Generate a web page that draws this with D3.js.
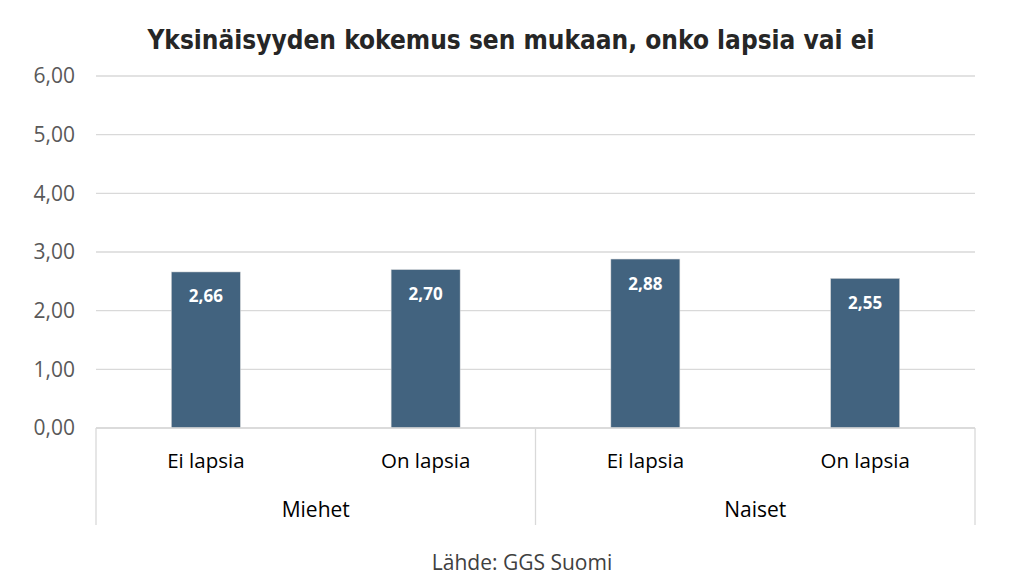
<!DOCTYPE html>
<html><head><meta charset="utf-8">
<script src="https://cdn.jsdelivr.net/npm/d3@7"></script>
<style>body{margin:0;background:#fff}</style>
</head><body>
<svg id="c" width="1024" height="586"></svg>
<script>
const title = "Yksinäisyyden kokemus sen mukaan, onko lapsia vai ei";
const source = "Lähde: GGS Suomi";
const groups = ["Miehet", "Naiset"];
const categories = ["Ei lapsia", "On lapsia", "Ei lapsia", "On lapsia"];
const categoryGroup = ["Miehet", "Miehet", "Naiset", "Naiset"];
const values = [2.66, 2.70, 2.88, 2.55];
const yTicks = [0, 1, 2, 3, 4, 5, 6];

const svg = d3.select("#c");
const W = 1024, H = 586;
const m = {l: 96, r: 975, t: 76, b: 428};
const fmt = v => d3.format(".2f")(v).replace(".", ",");
const font = "'Open Sans', 'Noto Sans', sans-serif";

svg.append("rect").attr("width", W).attr("height", H).attr("fill", "#fff");

const x = d3.scaleBand().domain(d3.range(categories.length)).range([m.l, m.r]).paddingInner(0.686).paddingOuter(0.343);
const y = d3.scaleLinear().domain([0, 6]).range([m.b, m.t]);

// gridlines
svg.append("g").selectAll("line").data(yTicks).join("line")
  .attr("x1", m.l).attr("x2", m.r)
  .attr("y1", d => y(d)).attr("y2", d => y(d))
  .attr("stroke", "#d9d9d9").attr("stroke-width", 1.3);

// y axis labels
const yAxis = d3.axisLeft(y).tickValues(yTicks).tickFormat(fmt).tickSize(0).tickPadding(21);
const ya = svg.append("g").attr("transform", `translate(${m.l},0)`).call(yAxis);
ya.select(".domain").remove();
ya.selectAll("text").attr("font-family", font).attr("font-size", 21).attr("fill", "#595959");

// bars
svg.append("g").selectAll("rect").data(values).join("rect")
  .attr("x", (d, i) => x(i)).attr("width", x.bandwidth())
  .attr("y", d => y(d)).attr("height", d => y(0) - y(d))
  .attr("fill", "#42637f").attr("stroke", "#d9d9d9").attr("stroke-width", 0.5);

// data labels
svg.append("g").selectAll("text").data(values).join("text")
  .attr("x", (d, i) => x(i) + x.bandwidth() / 2).attr("y", d => y(d) + 30.5)
  .attr("text-anchor", "middle").attr("font-family", font).attr("font-weight", "bold")
  .attr("font-size", 17).attr("fill", "#fff").text(d => fmt(d));

// x axis
const xa = d3.axisBottom(x).tickFormat(i => categories[i]).tickSize(0);
const xg = svg.append("g").attr("transform", `translate(0,${m.b})`).call(xa);
xg.select(".domain").attr("stroke", "#d9d9d9").attr("stroke-width", 1.3).attr("d", `M${m.l},0H${m.r}`);
xg.selectAll("text").attr("y", 40).attr("dy", 0).attr("font-family", font).attr("font-size", 20.5).attr("fill", "#000");

// group separators
const step = x.step();
const bounds = [m.l, m.l + step * 2, m.r];
svg.append("g").selectAll("line").data(bounds).join("line")
  .attr("x1", d => d).attr("x2", d => d).attr("y1", m.b).attr("y2", 525)
  .attr("stroke", "#d9d9d9").attr("stroke-width", 1.3);

svg.append("g").selectAll("text").data(groups).join("text")
  .attr("x", g => {
    const idx = categories.map((c, i) => i).filter(i => categoryGroup[i] === g);
    return (x(idx[0]) + x(idx[idx.length - 1]) + x.bandwidth()) / 2;
  })
  .attr("y", 517).attr("text-anchor", "middle").attr("font-family", font)
  .attr("font-size", 21).attr("fill", "#000").text(d => d);

// title
svg.append("text").attr("x", 511).attr("y", 49).attr("text-anchor", "middle")
  .attr("font-family", "'Liberation Sans Narrow', 'DejaVu Sans Condensed', sans-serif")
  .attr("font-weight", "bold").attr("font-size", 26).attr("fill", "#262626").text(title);

// source
svg.append("text").attr("x", 522).attr("y", 570).attr("text-anchor", "middle")
  .attr("font-family", font).attr("font-size", 21).attr("fill", "#404040").text(source);
</script>
</body></html>
